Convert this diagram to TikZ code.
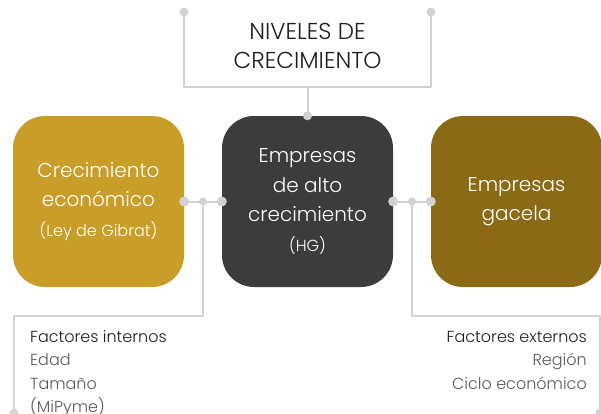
\documentclass[tikz,border=0pt]{standalone}
\usepackage{fontspec}
\setmainfont{Poppins Light}
\usetikzlibrary{positioning}
\definecolor{ccaaqq}{RGB}{200,158,40}
\definecolor{qqqqqq}{RGB}{60,60,60}
\definecolor{aaqqqq}{RGB}{138,106,20}
\definecolor{ddddee}{RGB}{210,210,214}
\definecolor{tttttt}{RGB}{30,30,30}
\definecolor{uuuuuu}{RGB}{90,90,90}
\tikzset{
  caja/.style={rounded corners=32pt,minimum width=171pt,minimum height=171pt,inner sep=0pt,text=white,align=center,font=\fontsize{20}{29.5}\selectfont},
  enlace/.style={line width=2pt,color=ddddee},
  punto/.style={fill=ddddee,draw=none}
}
\newcommand{\chico}{\fontsize{16}{28}\selectfont}
\begin{document}
\begin{tikzpicture}[line cap=round,line join=round,x=1pt,y=-1pt]
    \useasboundingbox (0,0) rectangle (601,413);
    % cajas
    \node [caja,fill=ccaaqq] (crec) at (98.5,201.5) {Crecimiento\\econ\'omico\\{\chico(Ley de Gibrat)}};
    \node [caja,fill=qqqqqq] (hg) at (307.5,201.5) {Empresas\\de alto\\crecimiento\\{\chico(HG)}};
    \node [caja,fill=aaqqqq] (gacela) at (516.5,201.5) {Empresas\\gacela};
    % titulo (base = ultima linea)
    \node [anchor=base,align=center,text=tttttt,font=\fontsize{23}{29}\selectfont] (titulo) at (307.5,68) {NIVELES DE\\CRECIMIENTO};
    % factores
    \node [anchor=base west,align=left,inner sep=0pt,text=uuuuuu,font=\fontsize{16}{23.5}\selectfont] (internos) at (30,412.5) {\textcolor{tttttt}{Factores internos}\\Edad\\Tama\~no\\(MiPyme)};
    \node [anchor=base east,align=right,inner sep=0pt,text=uuuuuu,font=\fontsize{16}{23.5}\selectfont] (externos) at (587,389) {\textcolor{tttttt}{Factores externos}\\Regi\'on\\Ciclo econ\'omico};
    % puntos de enlace
    \coordinate (tl) at (184,12);
    \coordinate (tr) at (431,12);
    \coordinate (tm) at (307.5,87);
    \coordinate (lj) at (203,201.5);
    \coordinate (rj) at (412,201.5);
    \coordinate (lb) at (14,413);
    \coordinate (rb) at (600,413);
    \draw [enlace] (tl) |- (tm) -| (tr);
    \draw [enlace] (tm) -- (hg.north);
    \draw [enlace] (crec.east) -- (hg.west);
    \draw [enlace] (hg.east) -- (gacela.west);
    \draw [enlace] (lj) -- ++(0,114.5) -| (lb);
    \draw [enlace] (rj) -- ++(0,114.5) -| (rb);
    \draw [punto] (tl) circle (4.5pt);
    \draw [punto] (tr) circle (4.5pt);
    \draw [punto] (hg.north) circle (4.5pt);
    \draw [punto] (crec.east) circle (5pt);
    \draw [punto] (hg.west) circle (5pt);
    \draw [punto] (lj) circle (4pt);
    \draw [punto] (hg.east) circle (5pt);
    \draw [punto] (gacela.west) circle (5pt);
    \draw [punto] (rj) circle (4pt);
    \draw [punto] (lb) circle (4.5pt);
    \draw [punto] (rb) circle (4.5pt);
\end{tikzpicture}
\end{document}
